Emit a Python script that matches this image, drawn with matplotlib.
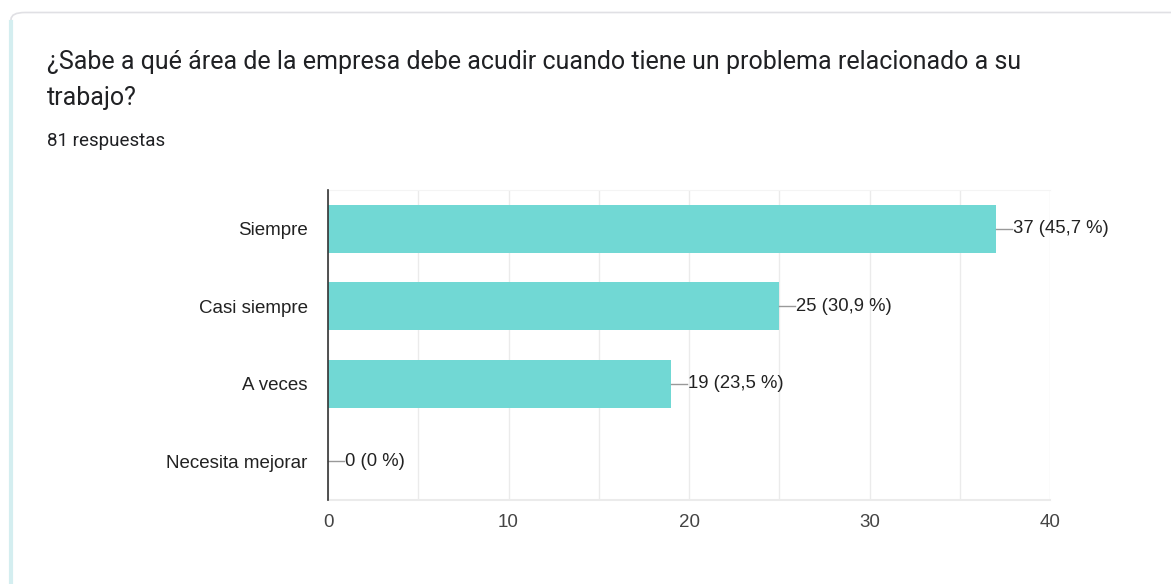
import matplotlib.pyplot as plt
from matplotlib.patches import FancyBboxPatch
from matplotlib.ticker import MultipleLocator

title = "¿Sabe a qué área de la empresa debe acudir cuando tiene un problema relacionado a su\ntrabajo?"
subtitle = "81 respuestas"
categories = ["Siempre", "Casi siempre", "A veces", "Necesita mejorar"]
counts = [37, 25, 19, 0]
percents = ["45,7", "30,9", "23,5", "0"]

W, H = 1171, 584
fig = plt.figure(figsize=(W / 100, H / 100), dpi=100)
fig.patch.set_facecolor("white")

# card outline: teal left edge, grey top edge
card = FancyBboxPatch((11 / W, -0.2), 1.2, 1 - 12.5 / H + 0.2,
                      boxstyle="round,pad=0,rounding_size=0.012",
                      transform=fig.transFigure, facecolor="white",
                      edgecolor="#e0e0e4", linewidth=1.2, zorder=-2)
fig.patches.append(card)
fig.add_artist(plt.Line2D([11 / W, 11 / W], [0, 1 - 22 / H], transform=fig.transFigure,
                          color="#d4eef0", linewidth=3, zorder=-1))

fig.text(47 / W, 1 - 80 / H, title, fontsize=18, family="Roboto", color="#202124",
         va="center", linespacing=1.62)
fig.text(47 / W, 1 - 141 / H, subtitle, fontsize=13.5, family="Roboto", color="#202124",
         va="center")

left, right, top, bottom = 328, 1050, 190, 500
ax = fig.add_axes([left / W, 1 - bottom / H, (right - left) / W, (bottom - top) / H])
ax.set_zorder(2)
ax.patch.set_alpha(0)

ypos = list(range(len(categories)))
ax.barh(ypos, counts, height=0.62, color="#71d8d4", zorder=3)
ax.set_xlim(0, 40)
ax.set_ylim(len(categories) - 0.5, -0.5)

ax.xaxis.set_major_locator(MultipleLocator(10))
ax.xaxis.set_minor_locator(MultipleLocator(5))
ax.grid(axis="x", which="both", color="#ebebeb", linewidth=1, zorder=0)

ax.set_yticks(ypos)
ax.set_yticklabels(categories, family="Liberation Sans", fontsize=13.5, color="#222222")
for lbl in ax.get_xticklabels():
    lbl.set_family("Liberation Sans")
ax.tick_params(axis="x", which="both", labelsize=13.5, labelcolor="#444444", length=0, pad=10)
ax.tick_params(axis="y", length=0, pad=14.5)

ax.spines["right"].set_visible(False)
ax.spines["top"].set_color("#f4f4f4")
ax.spines["bottom"].set_color("#ebebeb")
ax.spines["bottom"].set_linewidth(1.5)
ax.spines["left"].set_color("#333333")
ax.spines["left"].set_linewidth(1.2)
ax.spines["left"].set_zorder(4)

# value labels with short leader lines
lead = 0.88
for y, c, p in zip(ypos, counts, percents):
    ax.plot([c, c + lead], [y, y], color="#999999", linewidth=1, zorder=4, clip_on=False)
    ax.text(c + lead + 0.05, y, f"{c} ({p} %)", va="center", ha="left", fontsize=13.3,
            family="Liberation Sans", color="#222222", clip_on=False)

fig.savefig("out.png", dpi=100)
